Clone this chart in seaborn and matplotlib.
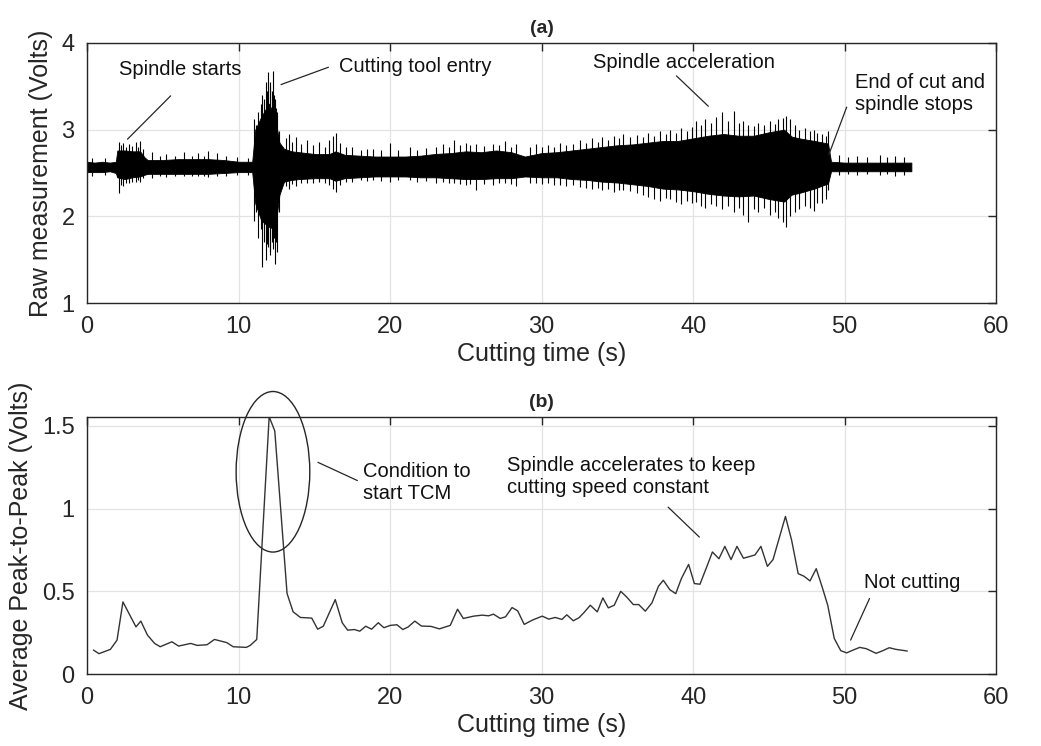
import matplotlib
matplotlib.use("Agg")
import matplotlib.pyplot as plt
from matplotlib.patches import Ellipse
import seaborn as sns

# (a) raw signal, read as a dense body envelope plus the visible spikes
t_body = [0, 0.5, 1.0, 1.5, 1.9, 2.0, 2.5, 3.0, 3.5, 3.8, 4.0, 5, 6, 7, 8, 9, 10, 10.9,
          11.1, 11.5, 12.0, 12.4, 12.7, 13.0, 13.5, 14, 15, 16, 16.4, 17, 18, 19, 20,
          21, 22, 23, 24, 25, 26, 27, 28, 28.9, 30, 31, 32, 33, 34, 35, 36, 37, 38,
          39, 40, 41, 42, 43, 44, 45, 46, 46.5, 47, 48, 48.9, 49.1, 50, 51, 52, 53, 54.4]
upper_body = [2.63, 2.62, 2.63, 2.62, 2.63, 2.76, 2.76, 2.75, 2.75, 2.68, 2.65, 2.65, 2.66,
              2.66, 2.66, 2.65, 2.63, 2.63, 3.00, 3.15, 3.30, 3.15, 2.85, 2.78, 2.75, 2.74,
              2.72, 2.72, 2.75, 2.71, 2.70, 2.69, 2.69, 2.69, 2.70, 2.72, 2.73, 2.75, 2.74,
              2.76, 2.74, 2.69, 2.73, 2.74, 2.76, 2.78, 2.80, 2.82, 2.83, 2.85, 2.87, 2.87,
              2.90, 2.93, 2.95, 2.93, 2.93, 2.97, 3.00, 2.92, 2.90, 2.87, 2.84, 2.63, 2.62,
              2.62, 2.62, 2.62, 2.62]
lower_body = [2.51, 2.51, 2.51, 2.52, 2.50, 2.45, 2.43, 2.45, 2.46, 2.48, 2.49, 2.49, 2.49,
              2.49, 2.49, 2.50, 2.51, 2.51, 2.15, 1.95, 1.88, 1.85, 2.25, 2.40, 2.42, 2.43,
              2.44, 2.44, 2.41, 2.44, 2.45, 2.46, 2.46, 2.46, 2.45, 2.45, 2.44, 2.43, 2.43,
              2.44, 2.44, 2.46, 2.45, 2.45, 2.43, 2.42, 2.40, 2.39, 2.37, 2.35, 2.32, 2.31,
              2.29, 2.26, 2.24, 2.23, 2.24, 2.20, 2.17, 2.25, 2.27, 2.32, 2.38, 2.52, 2.52,
              2.52, 2.52, 2.52, 2.52]

spike_t = [0.3, 1.2, 1.95, 2.1, 2.25, 2.4, 2.6, 2.8, 3.0, 3.2, 3.35, 3.5, 3.7, 4.3, 4.8,
           5.2, 5.8, 6.4, 6.9, 7.3, 7.7, 8.0, 8.6, 9.2, 9.9, 10.6,
           11.05, 11.15, 11.3, 11.45, 11.57, 11.7, 11.8, 11.88, 11.95, 12.05, 12.1, 12.18,
           12.26, 12.33, 12.4, 12.47, 12.54, 12.65,
           13.1, 13.3, 13.55, 13.8, 14.1, 14.5, 14.9, 15.3, 15.7, 16.0, 16.2, 16.4, 16.7,
           17.1, 17.5, 18.1, 18.5, 18.9, 19.4, 20.0, 20.5, 21.3, 21.8, 22.4, 23.0, 23.5,
           23.9, 24.2, 24.6, 25.0, 25.3, 25.7, 26.2, 26.8, 27.2, 27.6, 28.0, 28.3, 29.2,
           29.6, 30.0, 30.4, 30.8, 31.2, 31.6, 32.1, 32.5, 32.9, 33.3, 33.7, 34.0, 34.4,
           34.8, 35.1, 35.4, 35.8, 36.3, 36.7, 37.0, 37.4, 37.8, 38.2, 38.5, 38.9, 39.2,
           39.6, 39.9, 40.2, 40.5, 40.8, 41.2, 41.5, 41.9, 42.3, 42.7, 43.0, 43.3, 43.65,
           44.0, 44.3, 44.7, 45.1, 45.4, 45.6, 45.9, 46.1, 46.4, 46.7, 47.0, 47.4, 47.7,
           47.97, 48.2, 48.5, 48.75, 48.9,
           49.6, 50.2, 50.8, 51.5, 52.3, 52.8, 53.3, 53.9]
spike_hi = [2.67, 2.67, 2.70, 2.86, 2.82, 2.85, 2.80, 2.84, 2.81, 2.86, 2.80, 2.87, 2.78, 2.74, 2.70,
            2.72, 2.70, 2.74, 2.70, 2.73, 2.70, 2.75, 2.73, 2.70, 2.68, 2.67,
            3.12, 3.05, 3.20, 3.30, 3.40, 3.35, 3.55, 3.45, 3.67, 3.50, 3.55, 3.45,
            3.68, 3.40, 3.35, 3.25, 3.20, 2.98,
            2.90, 2.95, 2.86, 2.92, 2.84, 2.88, 2.82, 2.86, 2.80, 2.88, 2.93, 2.96, 2.85,
            2.80, 2.80, 2.76, 2.78, 2.78, 2.76, 2.85, 2.77, 2.80, 2.76, 2.79, 2.80, 2.83,
            2.80, 2.88, 2.82, 2.85, 2.82, 2.84, 2.81, 2.83, 2.82, 2.87, 2.80, 2.84, 2.80,
            2.83, 2.80, 2.82, 2.80, 2.85, 2.82, 2.84, 2.88, 2.85, 2.90, 2.86, 2.92, 2.88,
            2.93, 2.90, 2.95, 2.91, 2.94, 2.92, 2.96, 2.93, 2.98, 2.95, 3.00, 2.96, 3.02,
            2.98, 3.03, 3.10, 3.05, 3.12, 3.08, 3.15, 3.20, 3.10, 3.22, 3.08, 3.10, 3.05,
            3.04, 3.08, 3.05, 3.10, 3.06, 3.12, 3.14, 3.16, 3.12, 3.05, 3.00, 3.02, 2.98,
            3.00, 2.96, 2.95, 2.93, 2.98,
            2.71, 2.68, 2.70, 2.68, 2.71, 2.68, 2.70, 2.68]
spike_lo = [2.47, 2.48, 2.45, 2.27, 2.36, 2.35, 2.39, 2.38, 2.40, 2.40, 2.42, 2.40, 2.44, 2.44, 2.46,
            2.45, 2.46, 2.46, 2.47, 2.46, 2.47, 2.45, 2.46, 2.47, 2.48, 2.48,
            1.95, 2.05, 1.75, 1.85, 1.41, 1.70, 1.50, 1.68, 1.65, 1.60, 1.55, 1.70,
            1.62, 1.75, 1.45, 1.70, 1.59, 2.05,
            2.35, 2.32, 2.37, 2.35, 2.38, 2.38, 2.39, 2.40, 2.38, 2.36, 2.32, 2.28, 2.36,
            2.40, 2.40, 2.42, 2.41, 2.42, 2.41, 2.40, 2.42, 2.42, 2.40, 2.41, 2.39, 2.40,
            2.38, 2.38, 2.37, 2.36, 2.37, 2.30, 2.37, 2.36, 2.38, 2.38, 2.37, 2.35, 2.39,
            2.38, 2.37, 2.38, 2.36, 2.36, 2.35, 2.36, 2.34, 2.33, 2.32, 2.33, 2.30, 2.31,
            2.28, 2.30, 2.30, 2.29, 2.27, 2.25, 2.22, 2.20, 2.18, 2.21, 2.20, 2.17, 2.14,
            2.18, 2.15, 2.16, 2.12, 2.10, 2.14, 2.12, 2.08, 2.12, 2.05, 2.10, 2.02, 1.94,
            2.08, 2.05, 2.10, 2.02, 2.05, 1.98, 1.93, 1.88, 2.00, 2.05, 2.08, 2.12, 2.10,
            2.06, 2.15, 2.15, 2.20, 2.30,
            2.48, 2.49, 2.48, 2.49, 2.48, 2.49, 2.47, 2.48]

# (b) average peak-to-peak
t_p2p = [0.42, 0.79, 1.54, 1.98, 2.37, 3.23, 3.55, 3.99, 4.46, 4.83, 5.6, 6.04, 6.84,
         7.27, 7.92, 8.41, 9.22, 9.64, 10.51, 10.77, 11.2, 12.02, 12.39, 13.2, 13.6,
         14.08, 14.83, 15.22, 15.59, 16.38, 16.84, 17.2, 17.64, 18.0, 18.39, 18.78,
         19.22, 19.59, 20.01, 20.45, 20.84, 21.2, 21.63, 22.07, 22.7, 23.25, 23.97,
         24.45, 24.83, 25.52, 26.07, 26.5, 26.82, 27.27, 27.62, 28.05, 28.42, 28.85,
         29.39, 30.04, 30.47, 30.9, 31.34, 31.66, 32.09, 32.46, 32.8, 33.21, 33.67,
         34.04, 34.4, 34.79, 35.22, 35.61, 36.05, 36.41, 36.84, 37.28, 37.71, 38.03,
         38.46, 38.85, 39.22, 39.7, 40.08, 40.45, 40.95, 41.27, 41.7, 42.09, 42.5,
         42.89, 43.32, 44.08, 44.47, 44.9, 45.27, 46.09, 46.5, 46.93, 47.32, 47.71,
         48.12, 48.51, 48.88, 49.31, 49.74, 50.13, 50.56, 50.99, 51.43, 52.07, 52.51,
         52.94, 53.38, 54.13]
p2p = [0.145, 0.123, 0.149, 0.205, 0.436, 0.285, 0.32, 0.235, 0.185, 0.165, 0.195, 0.169,
       0.185, 0.173, 0.177, 0.209, 0.19, 0.165, 0.161, 0.173, 0.209, 1.556, 1.47, 0.487,
       0.376, 0.342, 0.338, 0.271, 0.289, 0.45, 0.31, 0.265, 0.269, 0.259, 0.289, 0.271,
       0.31, 0.28, 0.294, 0.298, 0.269, 0.285, 0.32, 0.29, 0.288, 0.273, 0.294, 0.392,
       0.336, 0.35, 0.356, 0.352, 0.362, 0.336, 0.346, 0.402, 0.382, 0.30, 0.326, 0.35,
       0.332, 0.342, 0.33, 0.358, 0.322, 0.34, 0.372, 0.416, 0.376, 0.46, 0.40, 0.416,
       0.50, 0.466, 0.42, 0.42, 0.38, 0.43, 0.531, 0.567, 0.51, 0.486, 0.577, 0.663,
       0.547, 0.543, 0.661, 0.738, 0.697, 0.772, 0.692, 0.772, 0.70, 0.72, 0.772, 0.651,
       0.692, 0.953, 0.808, 0.607, 0.591, 0.563, 0.637, 0.527, 0.416, 0.215, 0.141,
       0.128, 0.145, 0.161, 0.153, 0.125, 0.141, 0.159, 0.149, 0.139]

sns.set_theme(style="whitegrid")
plt.rcParams['font.family'] = ['Liberation Sans', 'DejaVu Sans']

fig = plt.figure(figsize=(10.41, 7.46), dpi=100)
ax1 = fig.add_axes([0.0836, 0.5938, 0.8734, 0.3486])
ax2 = fig.add_axes([0.0836, 0.0965, 0.8734, 0.3449])

line_col = '#262626'

# --- (a)
ax1.fill_between(t_body, lower_body, upper_body, color='black', lw=0.6)
ax1.vlines(spike_t, spike_lo, spike_hi, color='black', lw=0.8)
ax1.set_xlim(0, 60)
ax1.set_ylim(1, 4)
ax1.set_yticks([1, 2, 3, 4])
ax1.set_xlabel('Cutting time (s)', fontsize=18, labelpad=3)
ax1.set_ylabel('Raw measurement (Volts)', fontsize=18, labelpad=6)
ax1.set_title('(a)', fontweight='bold', fontsize=14, pad=7)

ann = dict(fontsize=14.5, color='#111111', va='center', ha='left')
ax1.text(2.13, 3.69, 'Spindle starts', **ann)
ax1.plot([5.52, 2.67], [3.39, 2.89], color=line_col, lw=0.9)
ax1.text(16.6, 3.73, 'Cutting tool entry', **ann)
ax1.plot([15.93, 12.8], [3.72, 3.52], color=line_col, lw=0.9)
ax1.text(33.39, 3.78, 'Spindle acceleration', **ann)
ax1.plot([38.9, 41.0], [3.62, 3.27], color=line_col, lw=0.9)
ax1.text(50.67, 3.415, 'End of cut and\nspindle stops', linespacing=1.2, **ann)
ax1.plot([50.13, 48.95], [3.26, 2.71], color=line_col, lw=0.9)

# --- (b)
sns.lineplot(x=t_p2p, y=p2p, ax=ax2, color='#333333', lw=1.0)
ax2.set_xlim(0, 60)
ax2.set_ylim(0, 1.556)
ax2.set_yticks([0, 0.5, 1, 1.5])
ax2.set_yticklabels(['0', '0.5', '1', '1.5'])
ax2.set_xlabel('Cutting time (s)', fontsize=18, labelpad=3)
ax2.set_ylabel('Average Peak-to-Peak (Volts)', fontsize=18, labelpad=6)
ax2.set_title('(b)', fontweight='bold', fontsize=14, pad=7)

ax2.add_patch(Ellipse((12.27, 1.223), 4.86, 0.971, fill=False, lw=1.0,
                      edgecolor=line_col, clip_on=False))
ax2.plot([15.24, 17.84], [1.28, 1.17], color=line_col, lw=0.9)
ax2.text(18.22, 1.157, 'Condition to\nstart TCM', linespacing=1.2, **ann)
ax2.text(27.7, 1.195, 'Spindle accelerates to keep\ncutting speed constant',
         linespacing=1.2, **ann)
ax2.plot([38.35, 40.41], [1.009, 0.828], color=line_col, lw=0.9)
ax2.text(51.27, 0.553, 'Not cutting', **ann)
ax2.plot([51.64, 50.39], [0.457, 0.205], color=line_col, lw=0.9)

for ax in (ax1, ax2):
    ax.set_xticks(range(0, 61, 10))
    ax.tick_params(direction='in', top=True, right=True, length=6, width=1,
                   color='#262626', labelsize=17, labelcolor='#262626', pad=9)
    ax.grid(True, color='#e3e3e3', lw=0.9)
    for s in ax.spines.values():
        s.set_color('#262626')
        s.set_linewidth(1.0)
    ax.xaxis.label.set_color('#262626')
    ax.yaxis.label.set_color('#262626')

fig.savefig('out.png', dpi=100)
